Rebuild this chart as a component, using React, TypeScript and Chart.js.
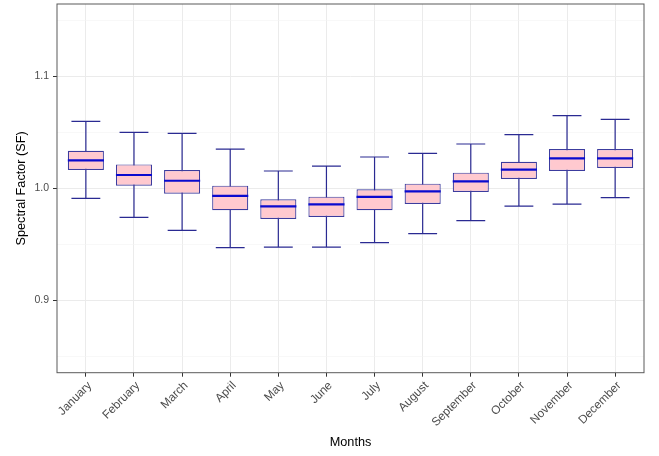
import React, { useEffect, useRef } from 'react';
import { Chart, registerables } from 'chart.js';

Chart.register(...registerables);

const months = ['January', 'February', 'March', 'April', 'May', 'June', 'July', 'August', 'September', 'October', 'November', 'December'];
const whiskerLow = [0.991, 0.974, 0.9625, 0.947, 0.9476, 0.9476, 0.9515, 0.9595, 0.9711, 0.9842, 0.986, 0.9917];
const q1 = [1.0164, 1.0024, 0.9952, 0.9804, 0.9726, 0.9744, 0.9804, 0.986, 0.9967, 1.0083, 1.0155, 1.0182];
const medians = [1.025, 1.0119, 1.0068, 0.9932, 0.9839, 0.9857, 0.9923, 0.9973, 1.0063, 1.0167, 1.0268, 1.0268];
const q3 = [1.0336, 1.0214, 1.0164, 1.0024, 0.9902, 0.9926, 0.9991, 1.0042, 1.014, 1.0238, 1.0351, 1.0351];
const whiskerHigh = [1.0598, 1.05, 1.0491, 1.0351, 1.0155, 1.0199, 1.028, 1.0313, 1.0396, 1.0479, 1.0649, 1.0616];
const yMajorTicks = [0.9, 1.0, 1.1];
const yMinorTicks = [0.85, 0.95, 1.05, 1.15];
const yMin = 0.8354;
const yMax = 1.1646;

const BOX_FILL = '#FFC9CF';
const BOX_BORDER = '#3C3C9E';
const WHISKER = '#2A2A92';
const MEDIAN = '#0A0ACF';
const FONT = '"Liberation Sans", Arial, sans-serif';

const isMajor = (v: number) => yMajorTicks.some((m) => Math.abs(m - v) < 1e-6);

const boxPlugin = {
  id: 'boxExtras',
  beforeDatasetsDraw(chart: any) {
    const { ctx, scales } = chart;
    const x = scales.x;
    const y = scales.y;
    const unit = x.getPixelForValue(1) - x.getPixelForValue(0);
    const half = unit * 0.3;
    ctx.save();
    ctx.strokeStyle = WHISKER;
    ctx.lineWidth = 1.2;
    months.forEach((_, i) => {
      const cx = x.getPixelForValue(i + 1);
      const yl = y.getPixelForValue(whiskerLow[i]);
      const yh = y.getPixelForValue(whiskerHigh[i]);
      ctx.beginPath();
      ctx.moveTo(cx, yh);
      ctx.lineTo(cx, yl);
      ctx.moveTo(cx - half, yh);
      ctx.lineTo(cx + half, yh);
      ctx.moveTo(cx - half, yl);
      ctx.lineTo(cx + half, yl);
      ctx.stroke();
    });
    ctx.restore();
  },
  afterDatasetsDraw(chart: any) {
    const { ctx, scales } = chart;
    const x = scales.x;
    const y = scales.y;
    const unit = x.getPixelForValue(1) - x.getPixelForValue(0);
    const half = unit * 0.375;
    ctx.save();
    ctx.strokeStyle = MEDIAN;
    ctx.lineWidth = 2.2;
    months.forEach((_, i) => {
      const cx = x.getPixelForValue(i + 1);
      const ym = y.getPixelForValue(medians[i]);
      ctx.beginPath();
      ctx.moveTo(cx - half, ym);
      ctx.lineTo(cx + half, ym);
      ctx.stroke();
    });
    ctx.restore();
  },
  afterDraw(chart: any) {
    const { ctx, chartArea } = chart;
    ctx.save();
    ctx.strokeStyle = '#5a5a5a';
    ctx.lineWidth = 1;
    ctx.strokeRect(chartArea.left, chartArea.top, chartArea.right - chartArea.left, chartArea.bottom - chartArea.top);
    ctx.restore();
  },
};

export default function App() {
  const ref = useRef<HTMLCanvasElement | null>(null);

  useEffect(() => {
    document.body.style.margin = '0';
    const canvas = ref.current;
    if (!canvas) return;
    const chart = new Chart(canvas, {
      type: 'bar',
      data: {
        datasets: [
          {
            data: months.map((_, i) => ({ x: i + 1, y: [q1[i], q3[i]] })) as any,
            backgroundColor: BOX_FILL,
            borderColor: BOX_BORDER,
            borderWidth: 1.2,
            borderSkipped: false,
            barPercentage: 0.75,
            categoryPercentage: 1,
          },
        ],
      },
      options: {
        animation: false,
        responsive: false,
        events: [],
        layout: { padding: { left: 14, top: 4, right: 15, bottom: 6 } },
        plugins: { legend: { display: false }, tooltip: { enabled: false } },
        scales: {
          x: {
            type: 'linear',
            min: 0.4,
            max: 12.6,
            offset: false,
            afterBuildTicks: (s: any) => {
              s.ticks = months.map((_, i) => ({ value: i + 1 }));
            },
            afterFit: (s: any) => {
              s.height = 77.3;
              s.paddingLeft = 0;
              s.paddingRight = 0;
            },
            grid: {
              offset: false,
              color: '#EBEBEB',
              lineWidth: 1,
              tickLength: 4,
              tickColor: '#333333',
            },
            border: { display: false },
            ticks: {
              autoSkip: false,
              minRotation: 45,
              maxRotation: 45,
              padding: 2,
              labelOffset: 4,
              color: '#4D4D4D',
              font: { family: FONT, size: 11.8 },
              callback: (v: any) => months[Math.round(Number(v)) - 1] ?? '',
            },
            title: {
              display: true,
              text: 'Months',
              color: '#000000',
              padding: 0,
              font: { family: FONT, size: 12.7 },
            },
          },
          y: {
            type: 'linear',
            min: yMin,
            max: yMax,
            afterBuildTicks: (s: any) => {
              s.ticks = [...yMinorTicks, ...yMajorTicks].sort((a, b) => a - b).map((v) => ({ value: v }));
            },
            afterFit: (s: any) => {
              s.width = 43;
              s.paddingTop = 0;
              s.paddingBottom = 0;
            },
            grid: {
              color: (c: any) => (isMajor(c.tick.value) ? '#EBEBEB' : '#F3F3F3'),
              lineWidth: (c: any) => (isMajor(c.tick.value) ? 1 : 0.6),
              tickLength: 4,
              tickColor: (c: any) => (isMajor(c.tick.value) ? '#333333' : 'rgba(0,0,0,0)'),
            },
            border: { display: false },
            ticks: {
              autoSkip: false,
              padding: 4,
              color: '#4D4D4D',
              font: { family: FONT, size: 10.5 },
              callback: (v: any) => (isMajor(Number(v)) ? Number(v).toFixed(1) : ''),
            },
            title: {
              display: true,
              text: 'Spectral Factor (SF)',
              color: '#000000',
              padding: 0,
              font: { family: FONT, size: 12.7 },
            },
          },
        },
      },
      plugins: [boxPlugin],
    });
    return () => chart.destroy();
  }, []);

  return (
    <div style={{ width: 659, height: 456 }}>
      <canvas ref={ref} width={659} height={456} />
    </div>
  );
}
